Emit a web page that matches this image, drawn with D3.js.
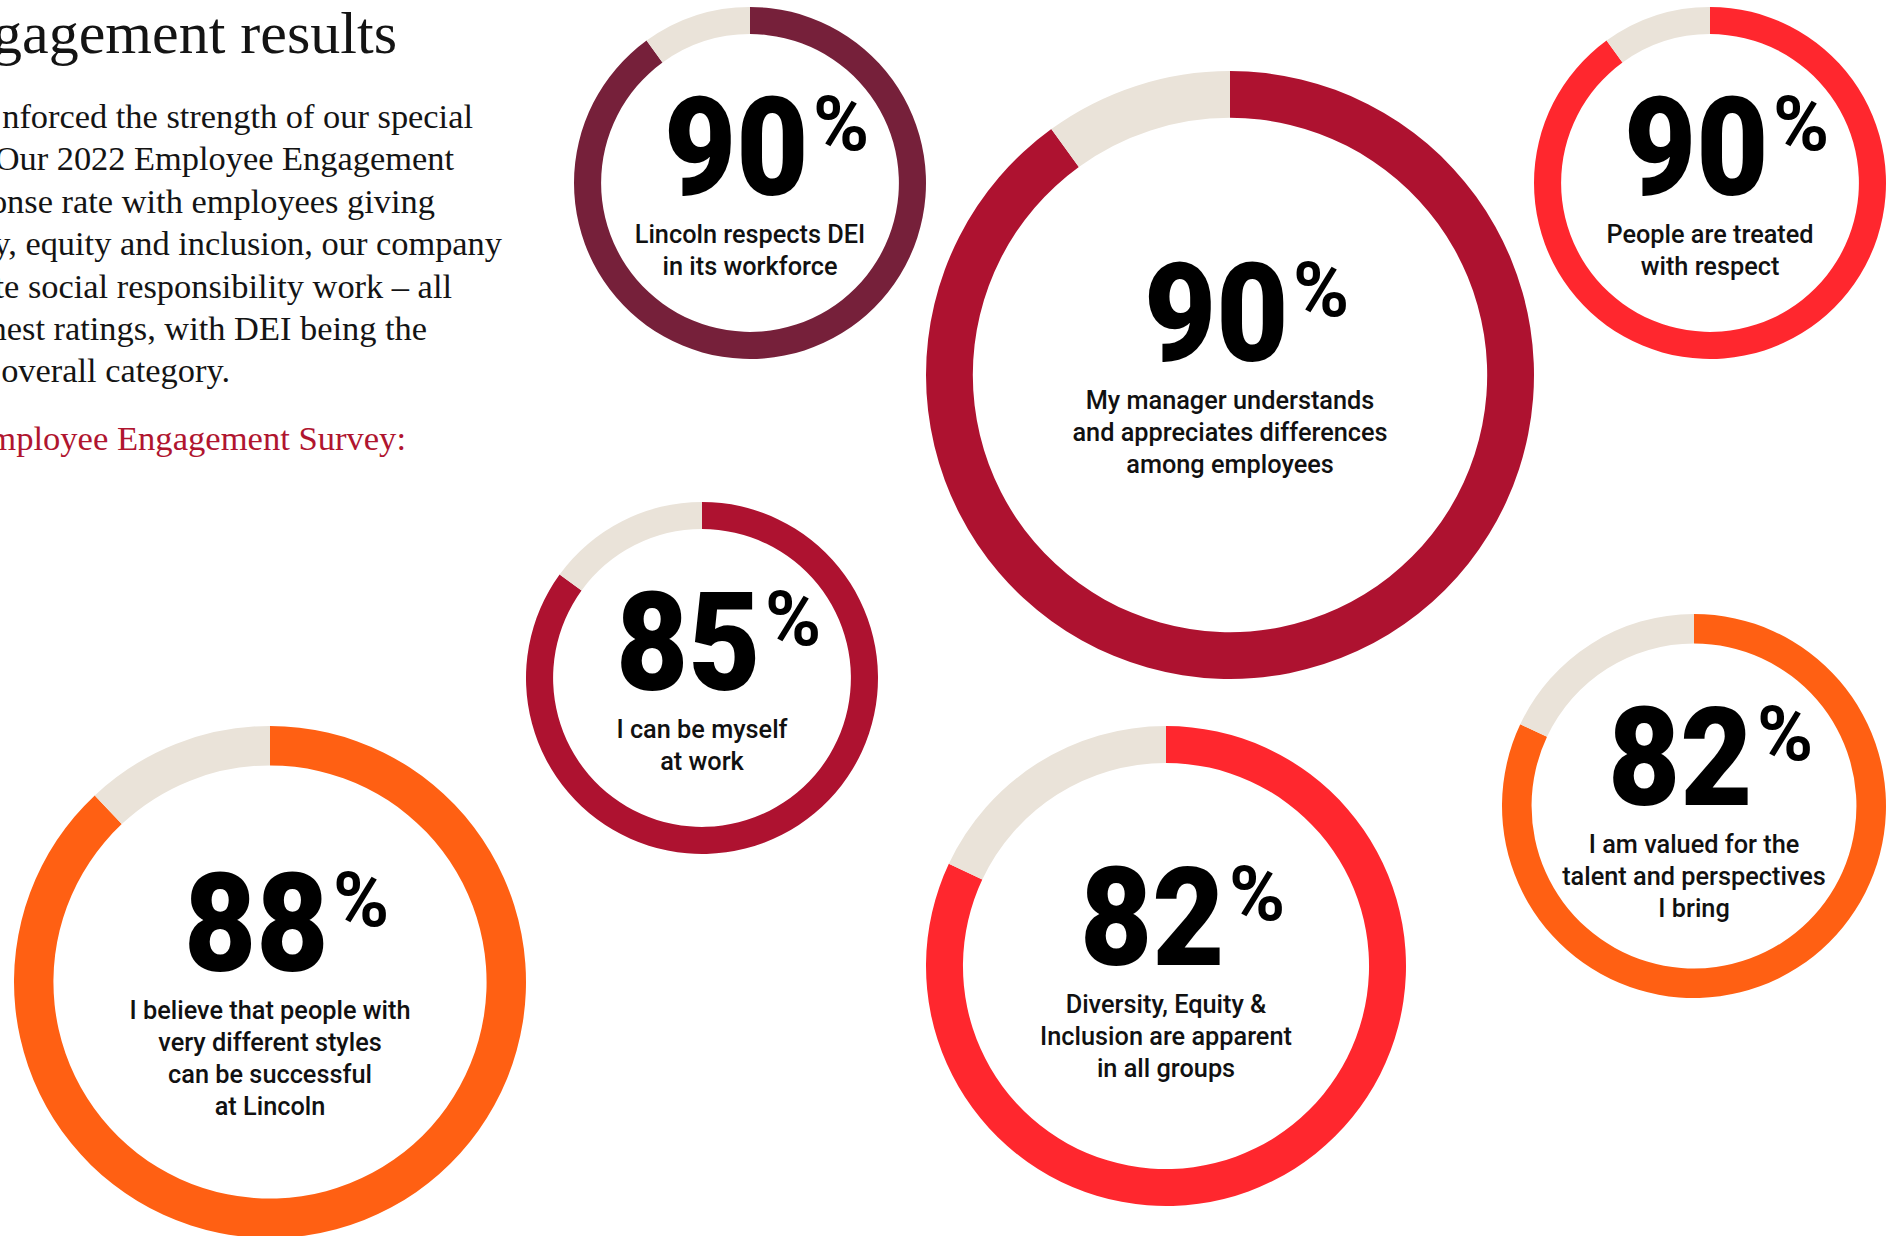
<!DOCTYPE html>
<html>
<head>
<meta charset="utf-8">
<script src="https://cdn.jsdelivr.net/npm/d3@7"></script>
<style>
	body { margin: 0; background: #fff; }
	svg { display: block; }
	.intro text { font-family: "Liberation Serif", serif; fill: #141414; }
	.intro .title { font-size: 60px; }
	.intro .body { font-size: 34.4px; }
	.intro .lead { font-size: 34.6px; fill: #b0152f; }
	.score { font-family: "Roboto", sans-serif; font-weight: 900; font-size: 137px; fill: #000; }
	.pct { font-family: "Roboto", sans-serif; font-weight: 700; font-size: 76px; fill: #000; }
	.statement { font-family: "Roboto", sans-serif; font-weight: 500; font-size: 25.3px; fill: #111; }
</style>
</head>
<body>
<div class="engagement"></div>
<script>

// survey results (share of favourable answers)
const scores = [90, 90, 90, 85, 88, 82, 82];

const statements = [
	["Lincoln respects DEI", "in its workforce"],
	["My manager understands", "and appreciates differences", "among employees"],
	["People are treated", "with respect"],
	["I can be myself", "at work"],
	["I believe that people with", "very different styles", "can be successful", "at Lincoln"],
	["Diversity, Equity &", "Inclusion are apparent", "in all groups"],
	["I am valued for the", "talent and perspectives", "I bring"]
];

// visible part of the intro copy (cut at the left edge)
const titleText = "gagement results";
const introLines = [
	"nforced the strength of our special",
	"Our 2022 Employee Engagement",
	"onse rate with employees giving",
	"y, equity and inclusion, our company",
	"ate social responsibility work – all",
	"hest ratings, with DEI being the",
	"overall category."
];
const leadText = "mployee Engagement Survey:";

// bubble placement
const layout = [
	{ cx: 750, cy: 183, r: 176, color: "#76203a", dy: 12 },
	{ cx: 1230, cy: 375, r: 304, color: "#ae1230", dy: -14 },
	{ cx: 1710, cy: 183, r: 176, color: "#ff272e", dy: 12 },
	{ cx: 702, cy: 678, r: 176, color: "#ae1230", dy: 12 },
	{ cx: 270, cy: 982, r: 256, color: "#ff6013", dy: -11 },
	{ cx: 1166, cy: 966, r: 240, color: "#ff272e", dy: -1 },
	{ cx: 1694, cy: 806, r: 192, color: "#ff6013", dy: -1 }
];
const introEnds = [473, 454, 435, 502, 452, 427, 230];

const width = 1895;
const height = 1236;
const rest = "#eae3d9";

const svg = d3.select(".engagement")
	.append("svg")
		.attr("width", width)
		.attr("height", height);

// intro copy
const intro = svg.append("g").attr("class", "intro");

intro.append("text")
	.attr("class", "title")
	.attr("x", 397)
	.attr("y", 53)
	.attr("text-anchor", "end")
	.text(titleText);

intro.selectAll(".body")
	.data(introLines).enter()
	.append("text")
		.attr("class", "body")
		.attr("text-anchor", "end")
		.attr("x", (d, i) => introEnds[i])
		.attr("y", (d, i) => 128 + i * 42.4)
		.text((d) => d);

intro.append("text")
	.attr("class", "lead")
	.attr("x", 406)
	.attr("y", 450)
	.attr("text-anchor", "end")
	.text(leadText);

// donuts
const pie = d3.pie()
	.sort(null)
	.startAngle(0)
	.endAngle(2 * Math.PI);

const data = scores.map((s, i) => Object.assign({ score: s, lines: statements[i] }, layout[i]));

const bubbles = svg.selectAll(".bubble")
	.data(data).enter()
	.append("g")
		.attr("class", "bubble")
		.attr("transform", (d) => `translate(${d.cx},${d.cy})`);

bubbles.each(function(d) {
	const arc = d3.arc()
		.innerRadius(d.r * 0.846)
		.outerRadius(d.r);

	d3.select(this)
		.selectAll("path")
			.data(pie([d.score, 100 - d.score])).enter()
		.append("path")
			.attr("d", arc)
			.attr("fill", (p, i) => i === 0 ? d.color : rest);
});

// big figure, a little condensed
bubbles.append("text")
	.attr("class", "score")
	.attr("transform", (d) => `translate(-86,${d.dy}) scale(0.91,1)`)
	.text((d) => d.score);

bubbles.append("text")
	.attr("class", "pct")
	.attr("x", 63)
	.attr("y", (d) => d.dy - 45)
	.text("%");

bubbles.each(function(d) {
	d3.select(this)
		.append("text")
			.attr("class", "statement")
			.attr("text-anchor", "middle")
		.selectAll("tspan")
			.data(d.lines).enter()
		.append("tspan")
			.attr("x", 0)
			.attr("y", (l, i) => d.dy + 48 + i * 32)
			.text((l) => l);
});

</script>
</body>
</html>
